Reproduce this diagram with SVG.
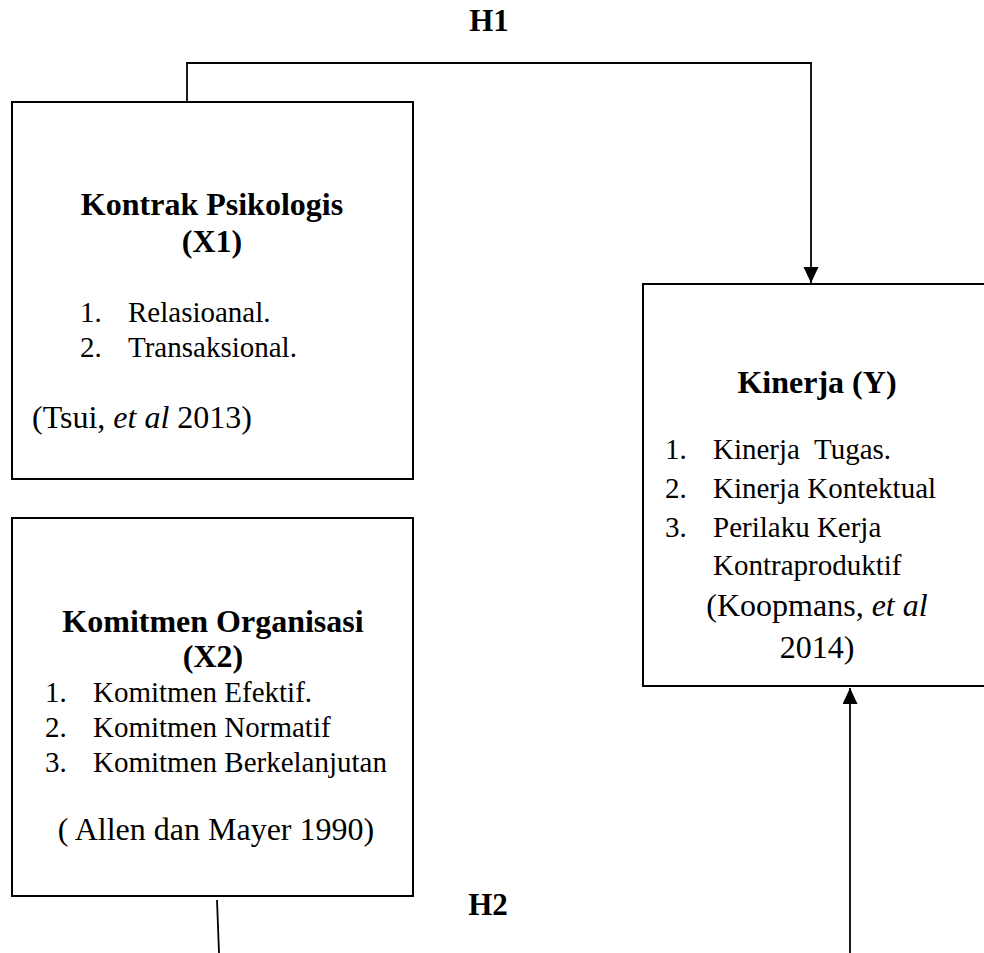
<svg xmlns="http://www.w3.org/2000/svg" width="984" height="953" viewBox="0 0 984 953">
  <style>
    .box { fill: #fff; stroke: #000; stroke-width: 2; }
    .conn { fill: none; stroke: #000; stroke-width: 1.8; }
    text { font-family: "Liberation Serif", "Times New Roman", serif; fill: #000; }
    .title { font-size: 32px; font-weight: bold; text-anchor: middle; }
    .lbl { font-size: 31px; font-weight: bold; text-anchor: middle; }
    .item { font-size: 29px; }
    .ref { font-size: 32px; }
    .mid { text-anchor: middle; }
    .it { font-style: italic; }
  </style>
  <defs>
    <marker id="arrow" markerUnits="userSpaceOnUse" markerWidth="16" markerHeight="16" refX="16" refY="7.5" orient="auto">
      <path d="M0,0 L16,7.5 L0,15 Z" fill="#000"/>
    </marker>
  </defs>
  <rect width="984" height="953" fill="#fff"/>

  <g id="connectors">
    <path class="conn" d="M187,110 V63 H811 V283" marker-end="url(#arrow)"/>
    <path class="conn" d="M850,953 V688" marker-end="url(#arrow)"/>
    <path class="conn" d="M217,900 L219,953"/>
    <text class="lbl" x="489" y="31">H1</text>
    <text class="lbl" x="488" y="915">H2</text>
  </g>

  <g id="node-x1">
    <rect class="box" x="12" y="102" width="401" height="377"/>
    <text class="title" x="212" y="215">Kontrak Psikologis</text>
    <text class="title" x="212" y="252">(X1)</text>
    <text class="item" x="80" y="322">1.</text>
    <text class="item" x="128" y="322">Relasioanal.</text>
    <text class="item" x="80" y="357">2.</text>
    <text class="item" x="128" y="357">Transaksional.</text>
    <text class="ref" x="32" y="428">(Tsui, <tspan class="it">et al</tspan> 2013)</text>
  </g>

  <g id="node-x2">
    <rect class="box" x="12" y="518" width="401" height="378"/>
    <text class="title" x="213" y="632">Komitmen Organisasi</text>
    <text class="title" x="213" y="667">(X2)</text>
    <text class="item" x="45" y="702">1.</text>
    <text class="item" x="93" y="702">Komitmen Efektif.</text>
    <text class="item" x="45" y="737">2.</text>
    <text class="item" x="93" y="737">Komitmen Normatif</text>
    <text class="item" x="45" y="772">3.</text>
    <text class="item" x="93" y="772">Komitmen Berkelanjutan</text>
    <text class="ref mid" x="216" y="840">( Allen dan Mayer 1990)</text>
  </g>

  <g id="node-y">
    <rect class="box" x="643" y="284" width="360" height="402"/>
    <text class="title" x="817" y="393">Kinerja (Y)</text>
    <text class="item" x="665" y="459">1.</text>
    <text class="item" x="713" y="459" xml:space="preserve">Kinerja  Tugas.</text>
    <text class="item" x="665" y="498">2.</text>
    <text class="item" x="713" y="498">Kinerja Kontektual</text>
    <text class="item" x="665" y="537">3.</text>
    <text class="item" x="713" y="537">Perilaku Kerja</text>
    <text class="item" x="713" y="575">Kontraproduktif</text>
    <text class="ref mid" x="817" y="616">(Koopmans, <tspan class="it">et al</tspan></text>
    <text class="ref mid" x="817" y="658">2014)</text>
  </g>
</svg>
